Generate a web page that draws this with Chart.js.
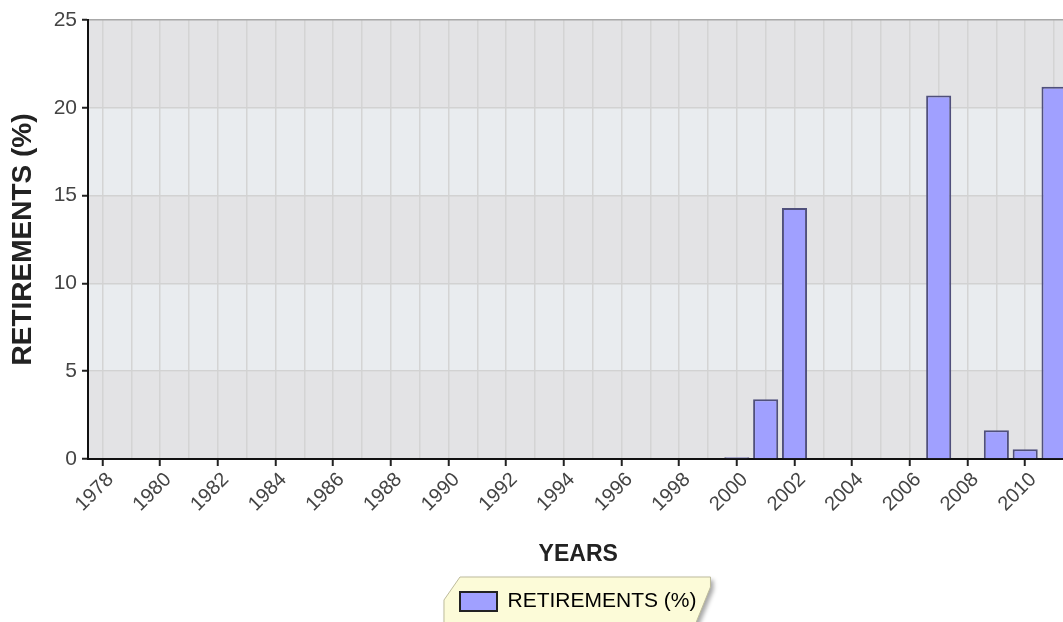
<!DOCTYPE html>
<html>
<head>
<meta charset="utf-8">
<script src="https://cdn.jsdelivr.net/npm/chart.js@4/dist/chart.umd.min.js"></script>
<style>
  html, body { margin: 0; padding: 0; background: #fff; overflow: hidden; }
</style>
</head>
<body>
<canvas id="myChart" width="1073" height="622"></canvas>
<script>
const years = ['1978', '1979', '1980', '1981', '1982', '1983', '1984', '1985', '1986', '1987',
  '1988', '1989', '1990', '1991', '1992', '1993', '1994', '1995', '1996', '1997',
  '1998', '1999', '2000', '2001', '2002', '2003', '2004', '2005', '2006', '2007',
  '2008', '2009', '2010', '2011'];
const retirements = [0, 0, 0, 0, 0, 0, 0, 0, 0, 0,
  0, 0, 0, 0, 0, 0, 0, 0, 0, 0,
  0, 0, 0.1, 3.4, 14.3, 0, 0, 0, 0, 20.7,
  0, 1.64, 0.56, 21.2];
const yTicks = [0, 5, 10, 15, 20, 25];

const FONT = 'Arial, "Liberation Sans", sans-serif';

// alternating bands behind the plot + beveled legend box
const backdrop = {
  id: 'backdrop',
  afterLayout(chart) {
    // center the legend under the plot area, not the whole canvas
    const lg = chart.legend;
    lg.left = chart.chartArea.left;
    lg.right = chart.chartArea.right;
    lg.width = lg.right - lg.left;
  },
  beforeDraw(chart) {
    const {ctx, chartArea, scales} = chart;
    const y = scales.y;
    ctx.save();
    for (let i = 0; i < yTicks.length - 1; i++) {
      const top = y.getPixelForValue(yTicks[i + 1]);
      const bottom = y.getPixelForValue(yTicks[i]);
      ctx.fillStyle = i % 2 === 0 ? '#e3e3e5' : '#e9ecef';
      ctx.fillRect(chartArea.left, top, chartArea.right - chartArea.left, bottom - top);
    }

    const hb = chart.legend.legendHitBoxes && chart.legend.legendHitBoxes[0];
    if (hb) {
      const l = hb.left, t = hb.top - 14, r = hb.left + hb.width + 14, b = hb.top + hb.height + 12;
      ctx.beginPath();
      ctx.moveTo(l, t);
      ctx.lineTo(r, t);
      ctx.lineTo(r, t + 10);
      ctx.lineTo(r - 15, b);
      ctx.lineTo(l - 16, b);
      ctx.lineTo(l - 16, t + 23);
      ctx.closePath();
      ctx.shadowColor = 'rgba(0,0,0,0.35)';
      ctx.shadowOffsetX = 3;
      ctx.shadowOffsetY = 3;
      ctx.shadowBlur = 4;
      ctx.fillStyle = '#fcfbd8';
      ctx.fill();
      ctx.shadowColor = 'transparent';
      ctx.strokeStyle = '#bdbb9c';
      ctx.lineWidth = 1;
      ctx.stroke();
    }
    ctx.restore();
  }
};

new Chart(document.getElementById('myChart').getContext('2d'), {
  type: 'bar',
  plugins: [backdrop],
  data: {
    labels: years,
    datasets: [{
      label: 'RETIREMENTS (%)',
      data: retirements,
      backgroundColor: '#a0a0ff',
      borderColor: '#50507c',
      borderWidth: 2,
      categoryPercentage: 1,
      barPercentage: 0.87
    }]
  },
  options: {
    responsive: false,
    animation: false,
    layout: { padding: { top: 20, right: 0, left: 0, bottom: 0 } },
    plugins: {
      tooltip: { enabled: false },
      legend: {
        position: 'bottom',
        labels: {
          boxWidth: 37,
          boxHeight: 19,
          padding: 12,
          color: '#333',
          font: { family: FONT, size: 21 },
          generateLabels(chart) {
            return [{
              text: chart.data.datasets[0].label,
              fillStyle: '#a0a0ff',
              strokeStyle: '#222',
              lineWidth: 2,
              datasetIndex: 0,
              hidden: false
            }];
          }
        }
      }
    },
    scales: {
      x: {
        afterFit(scale) { scale.height = 120; },
        grid: {
          offset: false,
          color: '#d4d4d4',
          lineWidth: 1.5,
          tickLength: 7,
          tickWidth: 2,
          tickColor: ctx => ctx.index % 2 === 0 ? '#222' : 'rgba(0,0,0,0)'
        },
        border: { color: '#111', width: 2 },
        ticks: {
          autoSkip: false,
          minRotation: 45,
          maxRotation: 45,
          padding: 2,
          labelOffset: 8,
          color: '#444',
          font: { family: FONT, size: 20 },
          callback: (v, i) => i % 2 === 0 ? years[i] : ''
        },
        title: {
          display: true,
          text: 'YEARS',
          color: '#222',
          font: { family: FONT, size: 23, weight: 'bold' },
          padding: { top: 0, bottom: 11 }
        }
      },
      y: {
        min: 0,
        max: 25,
        afterFit(scale) { scale.width = 88; },
        afterBuildTicks(scale) { scale.ticks = yTicks.map(v => ({value: v})); },
        grid: {
          color: ctx => ctx.tick && ctx.tick.value === 25 ? '#a8a8a8' : '#d2d2d2',
          lineWidth: 1.5,
          tickLength: 6,
          tickWidth: 2,
          tickColor: '#222'
        },
        border: { color: '#111', width: 2 },
        ticks: {
          padding: 5,
          color: '#444',
          font: { family: FONT, size: 21 }
        },
        title: {
          display: true,
          text: 'RETIREMENTS (%)',
          color: '#222',
          font: { family: FONT, size: 28, weight: 'bold' },
          padding: { top: 6, bottom: 0 }
        }
      }
    }
  }
});
</script>
</body>
</html>
